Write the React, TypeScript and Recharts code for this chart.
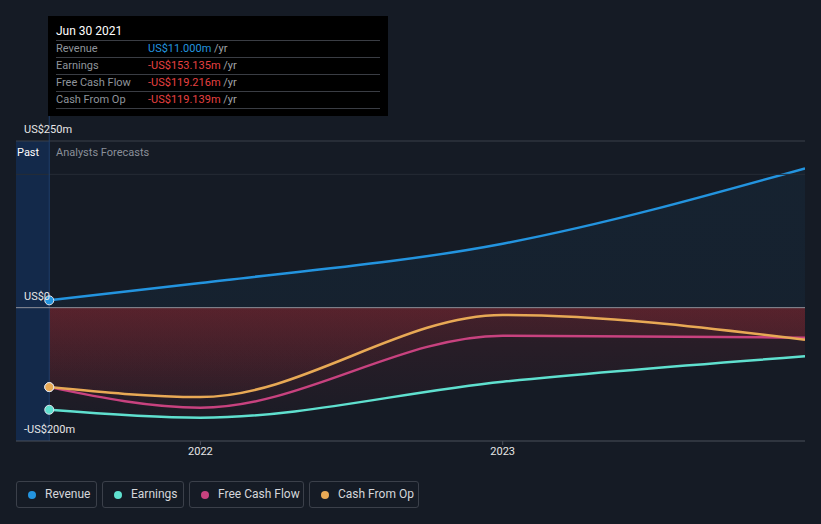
import React from "react";
import {
  ComposedChart,
  Area,
  XAxis,
  YAxis,
  ReferenceArea,
  ReferenceLine,
} from "recharts";

const periods = [2021.5, 2022, 2023, 2024];
const revenue = [11.0, 37, 96, 209];
const earnings = [-153.135, -165, -111, -73];
const freeCashFlow = [-119.216, -150, -42, -45];
const cashFromOp = [-119.139, -134, -11, -48];

const yTicks = [-200, 0, 250];
const yTickLabels: Record<number, string> = { [-200]: "-US$200m", 0: "US$0", 250: "US$250m" };
const xTicks = [2022, 2023];

const tooltipTitle = "Jun 30 2021";
const tooltipRows = [
  { label: "Revenue", value: "US$11.000m", color: "#2394df" },
  { label: "Earnings", value: "-US$153.135m", color: "#e64141" },
  { label: "Free Cash Flow", value: "-US$119.216m", color: "#e64141" },
  { label: "Cash From Op", value: "-US$119.139m", color: "#e64141" },
];

const COLORS = {
  revenue: "#2394df",
  earnings: "#5fe0cf",
  fcf: "#c8427f",
  cfo: "#e8a955",
};

const legendItems = [
  { name: "Revenue", color: COLORS.revenue, width: 81 },
  { name: "Earnings", color: COLORS.earnings, width: 82 },
  { name: "Free Cash Flow", color: COLORS.fcf, width: 115 },
  { name: "Cash From Op", color: COLORS.cfo, width: 110 },
];

const data = periods.map((p, i) => ({
  x: p,
  revenue: revenue[i],
  earnings: earnings[i],
  fcf: freeCashFlow[i],
  cfo: cashFromOp[i],
}));

const FONT = "Roboto, 'Noto Sans', sans-serif";

const makeDot = (color: string) => (props: any) => {
  const { cx, cy, index } = props;
  if (index !== 0) return <g key={`d${index}`} />;
  return (
    <circle key={`d${index}`} cx={cx} cy={cy} r={4.5} fill={color} stroke="#dfe4ec" strokeWidth={1} />
  );
};

const renderYTick = (props: any) => {
  const { y, payload } = props;
  return (
    <text key={`yt${payload.value}`} x={24} y={y - 12} dy={4} fill="#e6e6e6" fontSize={11} fontFamily={FONT}>
      {yTickLabels[payload.value]}
    </text>
  );
};

export default function App() {
  return (
    <div
      style={{
        position: "absolute",
        left: 0,
        top: 0,
        width: 821,
        height: 524,
        background: "#151b25",
        fontFamily: FONT,
        overflow: "hidden",
      }}
    >
      <ComposedChart
        width={821}
        height={524}
        data={data}
        margin={{ top: 141, right: 16, bottom: 53, left: 15 }}
      >
        <defs>
          <linearGradient id="redGrad" x1="0" y1="0" x2="0" y2="1">
            <stop offset="0%" stopColor="#e6323c" stopOpacity={0.2} />
            <stop offset="100%" stopColor="#e6323c" stopOpacity={0.05} />
          </linearGradient>
          <linearGradient id="blueGrad" x1="0" y1="0" x2="0" y2="1">
            <stop offset="0%" stopColor="#2394df" stopOpacity={0.1} />
            <stop offset="100%" stopColor="#2394df" stopOpacity={0.09} />
          </linearGradient>
        </defs>
        <XAxis
          type="number"
          dataKey="x"
          domain={[2021.39, 2024]}
          ticks={xTicks}
          allowDataOverflow
          tickFormatter={(v: number) => String(v)}
          stroke="#4b505a"
          tickSize={4}
          tick={{ fill: "#e6e6e6", fontSize: 11, fontFamily: FONT }}
          height={30}
        />
        <YAxis
          type="number"
          domain={[-200, 250]}
          ticks={yTicks}
          allowDataOverflow
          axisLine={false}
          tickLine={false}
          width={1}
          tick={renderYTick}
        />
        <ReferenceArea x1={2021.39} x2={2021.5} y1={-200} y2={250} fill="#13294a" fillOpacity={1} stroke="none" />
        <ReferenceLine y={250} stroke="#3b404a" />
        <ReferenceLine y={200} stroke="#262c36" />
        <ReferenceLine
          segment={[
            { x: 2021.5, y: 287.5 },
            { x: 2021.5, y: -200 },
          ]}
          stroke="#1f3f6c"
          ifOverflow="visible"
        />
        <Area type="monotone" dataKey="revenue" stroke="none" fill="url(#blueGrad)" isAnimationActive={false} dot={false} activeDot={false} />
        <Area type="monotone" dataKey="earnings" stroke="none" fill="url(#redGrad)" isAnimationActive={false} dot={false} activeDot={false} />
        <Area type="monotone" dataKey="fcf" stroke="none" fill="url(#redGrad)" isAnimationActive={false} dot={false} activeDot={false} />
        <Area type="monotone" dataKey="cfo" stroke="none" fill="url(#redGrad)" isAnimationActive={false} dot={false} activeDot={false} />
        <ReferenceLine y={0} stroke="#8e9099" />
        <Area type="monotone" dataKey="earnings" stroke={COLORS.earnings} strokeWidth={2.5} fill="none" isAnimationActive={false} dot={makeDot(COLORS.earnings)} activeDot={false} />
        <Area type="monotone" dataKey="fcf" stroke={COLORS.fcf} strokeWidth={2.5} fill="none" isAnimationActive={false} dot={makeDot(COLORS.fcf)} activeDot={false} />
        <Area type="monotone" dataKey="cfo" stroke={COLORS.cfo} strokeWidth={2.5} fill="none" isAnimationActive={false} dot={makeDot(COLORS.cfo)} activeDot={false} />
        <Area type="monotone" dataKey="revenue" stroke={COLORS.revenue} strokeWidth={2.5} fill="none" isAnimationActive={false} dot={makeDot(COLORS.revenue)} activeDot={false} />
      </ComposedChart>

      <div style={{ position: "absolute", left: 17, top: 146, fontSize: 11, color: "#ffffff", lineHeight: "14px" }}>
        Past
      </div>
      <div style={{ position: "absolute", left: 56, top: 146, fontSize: 11, color: "#8a8f99", lineHeight: "14px" }}>
        Analysts Forecasts
      </div>

      <div
        style={{
          position: "absolute",
          left: 48,
          top: 16,
          width: 340,
          height: 100,
          background: "#000000",
        }}
      >
        <div style={{ position: "absolute", left: 8, top: 8, fontSize: 12, color: "#ffffff", lineHeight: "14px" }}>
          {tooltipTitle}
        </div>
        {tooltipRows.map((r, i) => (
          <div
            key={r.label}
            style={{
              position: "absolute",
              left: 8,
              top: 24 + i * 17,
              width: 324,
              height: 17,
              borderTop: "1px solid #3a3d44",
              fontSize: 11,
              lineHeight: "16px",
            }}
          >
            <span style={{ position: "absolute", left: 0, color: "#8f949b" }}>{r.label}</span>
            <span style={{ position: "absolute", left: 92, color: r.color }}>
              {r.value} <span style={{ color: "#a0a3a8" }}>/yr</span>
            </span>
          </div>
        ))}
        <div style={{ position: "absolute", left: 8, top: 92, width: 324, borderTop: "1px solid #3a3d44" }} />
      </div>

      <div style={{ position: "absolute", left: 16, top: 481, display: "flex", gap: 5 }}>
        {legendItems.map((it) => (
          <div
            key={it.name}
            style={{
              width: it.width,
              height: 27,
              boxSizing: "border-box",
              border: "1px solid #3b404a",
              borderRadius: 3,
              position: "relative",
              fontSize: 12,
              color: "#d4d6da",
            }}
          >
            <span
              style={{
                position: "absolute",
                left: 11,
                top: 9,
                width: 8,
                height: 8,
                borderRadius: 4,
                background: it.color,
              }}
            />
            <span style={{ position: "absolute", left: 28, top: 5, lineHeight: "15px" }}>{it.name}</span>
          </div>
        ))}
      </div>
    </div>
  );
}
